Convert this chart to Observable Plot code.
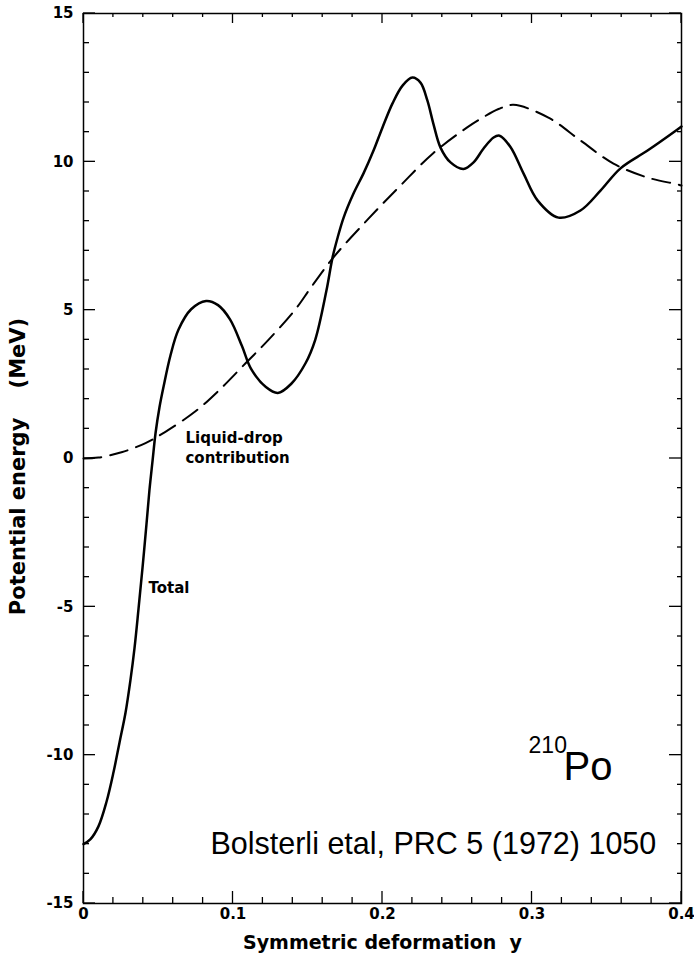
<!DOCTYPE html>
<html><head><meta charset="utf-8">
<script src="https://cdn.jsdelivr.net/npm/d3@7"></script>
<script src="https://cdn.jsdelivr.net/npm/@observablehq/plot@0.6"></script>
<style>body{margin:0;background:#fff} svg{white-space:pre}</style>
</head><body><div id="chart"></div>
<script>
// Total potential energy (MeV) vs symmetric deformation y
const totalY = [0, 0.0047, 0.010, 0.0154, 0.0201, 0.0241, 0.0281, 0.0314, 0.0341, 0.0368, 0.0395, 0.0421, 0.0441, 0.0462, 0.0482, 0.0508, 0.0535, 0.0582, 0.0635, 0.072, 0.082, 0.090, 0.098, 0.106, 0.112, 0.122, 0.130, 0.139, 0.1485, 0.155, 0.1625, 0.1666, 0.170, 0.174, 0.1806, 0.1873, 0.194, 0.200, 0.2067, 0.2134, 0.220, 0.2254, 0.230, 0.234, 0.2388, 0.2455, 0.2542, 0.2609, 0.2676, 0.2743, 0.2783, 0.2856, 0.2943, 0.3037, 0.3177, 0.3324, 0.3458, 0.3592, 0.3773, 0.3973, 0.400];
const totalE = [-13.0, -12.83, -12.4, -11.57, -10.57, -9.57, -8.57, -7.47, -6.4, -5.07, -3.67, -2.23, -1.07, -0.07, 0.86, 1.72, 2.41, 3.48, 4.34, 5.03, 5.31, 5.17, 4.69, 3.79, 3.03, 2.41, 2.21, 2.52, 3.21, 4.0, 5.66, 6.78, 7.45, 8.12, 8.93, 9.61, 10.38, 11.16, 11.97, 12.57, 12.84, 12.67, 12.07, 11.29, 10.48, 9.98, 9.76, 9.98, 10.45, 10.82, 10.88, 10.5, 9.61, 8.70, 8.12, 8.36, 9.03, 9.78, 10.38, 11.09, 11.19];
// Liquid-drop contribution
const dropY = [0, 0.010, 0.0254, 0.0415, 0.0548, 0.0749, 0.0903, 0.1084, 0.1237, 0.1418, 0.1518, 0.1672, 0.190, 0.212, 0.2341, 0.2569, 0.2656, 0.2776, 0.2876, 0.311, 0.3324, 0.3545, 0.3773, 0.3973, 0.400];
const dropE = [0, 0.03, 0.21, 0.52, 0.90, 1.59, 2.28, 3.21, 4.0, 5.03, 5.74, 6.78, 8.05, 9.2, 10.3, 11.17, 11.45, 11.78, 11.92, 11.49, 10.72, 9.94, 9.47, 9.24, 9.2];

const xMajor = [0, 0.1, 0.2, 0.3, 0.4];
const xMinor = [0.02, 0.04, 0.06, 0.08, 0.12, 0.14, 0.16, 0.18, 0.22, 0.24, 0.26, 0.28, 0.32, 0.34, 0.36, 0.38];
const yMajor = [-15, -10, -5, 0, 5, 10, 15];
const yMinor = [-14, -13, -12, -11, -9, -8, -7, -6, -4, -3, -2, -1, 1, 2, 3, 4, 6, 7, 8, 9, 11, 12, 13, 14];

const xTitle = "Symmetric deformation  y";
const yTitle = "Potential energy    (MeV)";
const curveLabels = [
  {x: 0.0435, y: -4.33, text: "Total"},
  {x: 0.0682, y: 0.41, text: "Liquid-drop\ncontribution"}
];
const isotopeMass = [{x: 0.2977, y: -9.68, text: "210"}];
const isotopeSym = [{x: 0.3211, y: -10.4, text: "Po"}];
const source = [{x: 0.0849, y: -13.0, text: "Bolsterli etal, PRC 5 (1972) 1050"}];

const W = 694, H = 961, mL = 83, mR = 13, mT = 13, mB = 58;

const total = totalY.map((x, i) => ({x, e: totalE[i]}));
const drop = dropY.map((x, i) => ({x, e: dropE[i]}));

// inward ticks on all four sides of the frame, placed with Plot's own scales
function frameTicks(index, scales, values, dims) {
  const {x, y} = scales;
  const top = dims.marginTop, bottom = dims.height - dims.marginBottom;
  const left = dims.marginLeft, right = dims.width - dims.marginRight;
  const g = d3.create("svg:g").attr("stroke", "black").attr("stroke-width", 1.3);
  const xs = [[xMinor, 6, 4], [xMajor, 12, 10]];
  for (const [vals, lb, lt] of xs) for (const v of vals) {
    const px = x(v);
    g.append("line").attr("x1", px).attr("x2", px).attr("y1", bottom).attr("y2", bottom - lb);
    g.append("line").attr("x1", px).attr("x2", px).attr("y1", top).attr("y2", top + lt);
  }
  const ys = [[yMinor, 6, 4], [yMajor, 12, 12]];
  for (const [vals, ll, lr] of ys) for (const v of vals) {
    const py = y(v);
    g.append("line").attr("y1", py).attr("y2", py).attr("x1", left).attr("x2", left + ll);
    g.append("line").attr("y1", py).attr("y2", py).attr("x1", right).attr("x2", right - lr);
  }
  return g.node();
}

const chart = Plot.plot({
  width: W, height: H,
  marginLeft: mL, marginRight: mR, marginTop: mT, marginBottom: mB,
  x: {domain: [0, 0.4]},
  y: {domain: [-15, 15]},
  style: {fontFamily: "DejaVu Sans", background: "white", color: "black"},
  marks: [
    Plot.frame({strokeWidth: 1.5}),
    frameTicks,
    Plot.axisX(xMajor, {tickSize: 0, tickPadding: 5, fontSize: 15, fontWeight: "bold", label: null,
      tickFormat: d => d === 0 ? "0" : d3.format(".1f")(d)}),
    Plot.axisY(yMajor, {tickSize: 0, tickPadding: 10, fontSize: 15, fontWeight: "bold", label: null,
      tickFormat: d => `${d}`}),
    Plot.text([xTitle], {text: d => d, frameAnchor: "bottom", dy: 45, fontSize: 19, fontWeight: "bold", letterSpacing: 0.5}),
    Plot.text([yTitle], {text: d => d, frameAnchor: "left", textAnchor: "middle", rotate: -90, dx: -65, dy: 8, fontSize: 21, fontWeight: "bold", letterSpacing: 3}),
    Plot.line(drop, {x: "x", y: "e", curve: "catmull-rom", stroke: "black", strokeWidth: 2, strokeDasharray: "18,9"}),
    Plot.line(total, {x: "x", y: "e", curve: "catmull-rom", stroke: "black", strokeWidth: 2.5}),
    Plot.text(curveLabels, {x: "x", y: "y", text: "text", textAnchor: "start", lineAnchor: "middle", fontSize: 15, fontWeight: "bold", lineHeight: 1.35, letterSpacing: 1.5}),
    Plot.text(isotopeMass, {x: "x", y: "y", text: "text", textAnchor: "start", lineAnchor: "middle", fontSize: 23, fontFamily: "Liberation Sans", letterSpacing: -2}),
    Plot.text(isotopeSym, {x: "x", y: "y", text: "text", textAnchor: "start", lineAnchor: "middle", fontSize: 40, fontFamily: "Liberation Sans"}),
    Plot.text(source, {x: "x", y: "y", text: "text", textAnchor: "start", lineAnchor: "middle", fontSize: 30.5, fontFamily: "Liberation Sans"})
  ]
});
document.getElementById("chart").appendChild(chart);
</script>
</body></html>
